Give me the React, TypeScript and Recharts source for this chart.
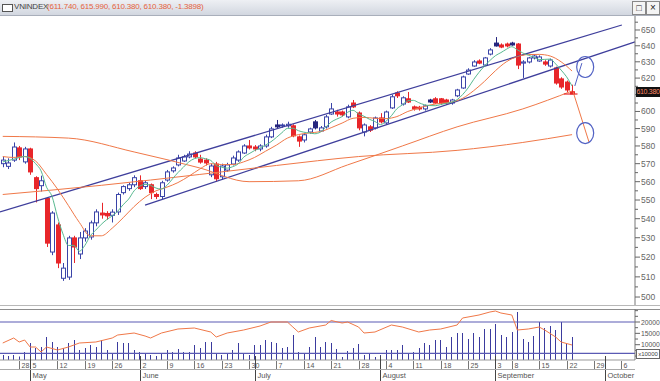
import React from 'react';
import { ComposedChart, Bar, Line, XAxis, YAxis, ReferenceLine, ReferenceDot } from 'recharts';

// trading days 23 Apr .. 8 Oct 2014, index 0..115 (data ends at 104)
const SLOTS = 116;

const opens = [
  570, 568.5, 572, 578.9, 571, 578.3, 562.2, 557.8, 550.8, 522.6,
  536.7, 509.3, 509.9, 529.9, 521.6, 529.9, 530.4, 537.8, 543, 542.8,
  541.8, 543.6, 554, 556.2, 558.3, 560.5, 557.3, 558.3, 553, 551.9,
  560.9, 566, 569.3, 571.5, 573.8, 576, 572.6, 572, 563.8, 569.8,
  562.7, 566.4, 569.8, 572, 576, 580, 579.4, 578.3, 580, 585.2,
  592.1, 591.6, 591.6, 591.6, 585.2, 583.4, 588, 593.9, 588.6, 591,
  598.5, 599.7, 599.7, 596.8, 605, 599.1, 588, 591, 590.4, 596.2,
  593.3, 602.1, 611, 604.4, 607.5, 602.7, 602.5, 601.5, 606.8, 607.5,
  607.5, 606.8, 605, 609.3, 614, 622.5, 627.4, 630.5, 628, 634.8,
  641.7, 640.5, 641.1, 641.7, 641.1, 629.2, 629.9, 632.4, 630.5, 629.9,
  627.4, 626.2, 619.5, 617.6, 611.74,
];
const highs = [
  574, 573, 582, 580, 579.5, 579, 563, 563.3, 551.5, 544,
  538, 517, 531, 531, 533, 535, 539, 545, 548.5, 544,
  545, 554, 558, 559.5, 563.5, 563.5, 560.5, 559, 554, 560.5,
  566.5, 568.5, 575, 575, 577, 577, 575, 573, 570, 571,
  570, 570.5, 574.5, 577.5, 581, 583.4, 580.5, 581, 586.5, 591,
  595, 593, 594, 592.5, 586, 587.5, 590.5, 595, 591.5, 598,
  605, 601, 600.5, 604, 606.8, 600, 593, 592, 597, 599,
  600.5, 610, 612, 609, 611.6, 603.5, 603.3, 604, 607.5, 608.5,
  608, 607.5, 607.5, 613.5, 621.5, 626, 631, 631.5, 633, 638.5,
  645.5, 641.5, 642, 642.5, 641.7, 631, 633, 634.5, 634, 631,
  632, 627, 620.5, 618.5, 615.99,
];
const lows = [
  568, 567, 571, 572, 570, 563.8, 548.7, 554.6, 525.2, 521,
  514.4, 508, 508.5, 517, 519, 528, 529, 536, 540, 539.5,
  538, 542, 553, 555, 557, 555.5, 556, 550.5, 550.5, 550.5,
  560, 565, 568.5, 571, 573, 573, 570, 569, 562.5, 560,
  561, 565.5, 569, 571, 575.5, 578, 577, 577, 579, 584.5,
  590, 590.5, 590.5, 585, 579.5, 582, 587, 589.5, 588, 590,
  598, 597, 597, 596, 602, 589, 585.5, 588, 589.5, 593,
  592.5, 601.5, 608, 603.5, 605, 600.5, 600.5, 600.5, 605, 604.5,
  604, 604, 604, 608.5, 613.5, 622, 627, 628.5, 627.5, 634,
  639.5, 638.5, 639, 640, 625.5, 620.1, 629, 631.5, 630, 627.5,
  626.5, 616, 613.5, 611.5, 610.38,
];
const closes = [
  572, 570.4, 579.4, 573.8, 578.3, 565.4, 556.2, 560.5, 527.2, 543,
  517, 514.4, 529.9, 525.2, 529.9, 533.5, 537.8, 543.6, 542, 541.5,
  543.5, 553, 557.3, 558.3, 562.2, 556.2, 559.4, 554, 551.9, 559.4,
  565.4, 567.6, 573.2, 573.8, 575.4, 573.8, 570.9, 570.4, 568.7, 561.6,
  568.7, 569.3, 573.2, 576.6, 580, 578.9, 578.3, 580, 585.2, 589.8,
  591, 592.1, 592.5, 585.8, 582.8, 586.4, 589.8, 590.4, 590.4, 596.8,
  601.5, 598.5, 598, 602.7, 602.7, 590.4, 592.1, 589.1, 596.2, 593.9,
  599.7, 608.7, 609.3, 608.1, 605.6, 601.5, 601.5, 603.3, 605.6, 605,
  605, 605, 606.8, 612.8, 620.7, 624.9, 629.9, 629.2, 632.4, 637.4,
  639.9, 639.2, 639.9, 640.5, 628, 629.9, 632.4, 633.6, 633, 628.6,
  631.1, 617, 614.6, 612.8, 610.38,
];
// small candles drawn filled in dark blue
const darkCandles = [50, 57, 78, 90, 93];

const volumes = [
  5463, 5022, 5463, 4800, 6784, 10749, 8546, 8987, 13392, 11190,
  8987, 8546, 10749, 12071, 7665, 8546, 9868, 8987, 12071, 7665,
  6344, 11190, 10749, 10749, 7665, 6784, 6344, 5463, 5022, 6344,
  7665, 6784, 8106, 6784, 6784, 9868, 8546, 11190, 11190, 6344,
  5463, 6344, 7665, 10749, 5903, 5463, 9868, 9868, 12071, 11190,
  10749, 8546, 8987, 14273, 6784, 6344, 8987, 13392, 8987, 11190,
  10749, 8106, 4581, 7225, 8546, 10308, 5463, 6344, 4581, 5463,
  7665, 7665, 7665, 9868, 6344, 6784, 8546, 10749, 9868, 12071,
  12071, 8987, 13392, 15154, 15154, 12511, 15154, 13392, 16916, 16916,
  19119, 14273, 13392, 15595, 24405, 12511, 11190, 13833, 20000, 17357,
  18238, 16476, 20000, 10749, 13392,
];

// [day index, value]
const ma5 = [
  [0, 571], [2, 572.5], [4, 574], [5, 573], [6, 570], [7, 566], [8, 557], [9, 552], [10, 541], [11, 532],
  [12, 526], [13, 526], [14, 523], [15, 526], [16, 531], [17, 534], [18, 537], [19, 539.5], [20, 541.5],
  [21, 544], [22, 547.5], [23, 550.5], [24, 555], [25, 557.5], [26, 558.5], [27, 558], [28, 556.5], [29, 556],
  [30, 558], [31, 561.5], [32, 565], [33, 568], [34, 571], [35, 572.8], [36, 573.4], [37, 572.8], [38, 571.8],
  [39, 569], [40, 568], [41, 567.5], [42, 568.3], [43, 569.9], [44, 573.6], [45, 575.6], [46, 577.4],
  [47, 578.8], [48, 580.5], [49, 582.4], [50, 584.9], [51, 587.6], [52, 590.1], [53, 590.2], [54, 588.8],
  [55, 587.9], [56, 587.5], [57, 587], [58, 587.9], [59, 590.8], [60, 593.8], [61, 595.5], [62, 597],
  [63, 599.5], [64, 600.7], [65, 598.5], [66, 597.2], [67, 595.4], [68, 594.1], [69, 592.3], [70, 594.2],
  [71, 597.5], [72, 601.6], [73, 603.9], [74, 606.3], [75, 606.6], [76, 605.2], [77, 604], [78, 603.5],
  [79, 603.4], [80, 604.1], [81, 604.8], [82, 605.5], [83, 607], [84, 610], [85, 614], [86, 619], [87, 623.5],
  [88, 627.4], [89, 630.8], [90, 633.8], [91, 635.7], [92, 637.8], [93, 639.4], [94, 637.5], [95, 635.5],
  [96, 634.1], [97, 632.9], [98, 631.4], [99, 631.5], [100, 631.7], [101, 628.7], [102, 624.9], [103, 620.8],
  [104, 615.2],
];
const ma10 = [
  [0, 574], [2, 573.5], [4, 574], [6, 571.5], [8, 564], [10, 556], [12, 547], [14, 538], [16, 531], [18, 531],
  [20, 535], [22, 540.5], [24, 546.5], [26, 551.5], [28, 555], [30, 557], [32, 559.5], [34, 563], [36, 567],
  [38, 570], [40, 569.5], [42, 569.5], [44, 571], [46, 573.5], [48, 577], [50, 580.5], [52, 584.5],
  [54, 586.5], [56, 587.5], [58, 588.2], [60, 590.5], [62, 593.2], [64, 596], [66, 596.5], [68, 596],
  [70, 595.8], [72, 597], [74, 600], [76, 602], [78, 603.8], [80, 604.8], [82, 605.6], [84, 607.8],
  [86, 612.3], [88, 618], [90, 624.5], [92, 630], [94, 633.2], [96, 634.5], [98, 634.6], [100, 633.6],
  [102, 630], [104, 624.3],
];
const ma50 = [
  [0, 585.5], [12, 584.5], [24, 576.6], [36, 567.6], [45, 560], [54, 560.5], [63, 569.3], [73, 580],
  [83, 591], [95, 601.5], [104, 612.2],
];
const ma100 = [
  [0, 553], [18, 558], [36, 564], [50, 569], [65, 574], [83, 577.5], [95, 582], [104, 586.5],
];
const obv = [
  [0, 10749], [2, 12952], [3, 11190], [4, 12071], [5, 8987], [6, 8987], [7, 6784], [8, 8987], [10, 7665],
  [12, 8987], [14, 10749], [17, 11190], [20, 12952], [21, 14273], [24, 15154], [26, 13833], [27, 12952],
  [29, 15154], [32, 16916], [35, 17357], [38, 15595], [39, 13392], [41, 15154], [44, 16476], [47, 18238],
  [49, 20000], [52, 20000], [53, 17797], [54, 15595], [56, 17357], [59, 18678], [60, 20660], [62, 19560],
  [63, 20000], [65, 17797], [66, 15154], [68, 15595], [71, 18678], [73, 17797], [76, 15595], [78, 16476],
  [80, 16916], [83, 18678], [84, 21762], [87, 23084], [89, 24405], [90, 24846], [91, 23965], [93, 23084],
  [94, 16476], [96, 16916], [98, 17797], [99, 16476], [101, 13392], [102, 11190], [104, 9868],
];

const priceTicks = [
  500, 505, 510, 515, 520, 525, 530, 535, 540, 545, 550, 555, 560, 565, 570, 575,
  580, 585, 590, 595, 600, 605, 610, 615, 620, 625, 630, 635, 640, 645, 650, 655,
];
const volTicks = [5000, 7500, 10000, 12500, 15000, 17500, 20000, 22500, 25000];
const volLabels = [10000, 15000, 20000];

const weekTicks = [3, 5, 10, 15, 20, 25, 30, 35, 40, 45, 50, 55, 60, 65, 70, 75, 80, 85, 90, 93, 98, 103, 108, 113];
const weekLabels = ['28', '5', '12', '19', '26', '2', '9', '16', '23', '30', '7', '14', '21', '28', '4', '11', '18', '25', '3', '8', '15', '22', '29', '6'];
const monthTicks = [5, 25, 46, 69, 90, 110];
const monthLabels = ['May', 'June', 'July', 'August', 'September', 'October'];

const LAST = { o: 611.74, h: 615.99, l: 610.38, c: 610.38, chg: -1.3898 };

const W = 660;
const PLOT_W = 635;
const FONT = '"Liberation Sans", Arial, sans-serif';
const BLUE = '#3a44a8';
const RED = '#e8262a';
const ORANGE = '#f07848';

const asMap = (pts: number[][]) => new Map(pts.map(([i, v]) => [i, v]));
const m5 = asMap(ma5), m10 = asMap(ma10), m50 = asMap(ma50), m100 = asMap(ma100), mObv = asMap(obv);

const rows = Array.from({ length: SLOTS }, (_, i) => {
  const has = i < opens.length;
  return {
    i,
    range: has ? [lows[i], highs[i]] : null,
    o: opens[i], h: highs[i], l: lows[i], c: closes[i],
    dark: darkCandles.includes(i),
    vol: has ? volumes[i] : null,
    ma5: m5.get(i) ?? null,
    ma10: m10.get(i) ?? null,
    ma50: m50.get(i) ?? null,
    ma100: m100.get(i) ?? null,
    obv: mObv.get(i) ?? null,
  };
});

function Candle(props: any) {
  const { x, y, width, height, payload } = props;
  if (!payload || payload.o == null) return null;
  const { o, h, l, c, dark } = payload;
  const top = Math.min(y, y + height);
  const bot = Math.max(y, y + height);
  const span = Math.log(h) - Math.log(l);
  const py = (v: number) => (span > 0 ? top + ((Math.log(h) - Math.log(v)) / span) * (bot - top) : top);
  const cx = Math.round(x + width / 2) + 0.5;
  const up = c >= o;
  const bTop = Math.min(py(o), py(c));
  const bH = Math.max(1, Math.abs(py(o) - py(c)));
  const col = dark ? '#25257e' : up ? BLUE : RED;
  return (
    <g>
      <line x1={cx} x2={cx} y1={top} y2={bot} stroke={up && !dark ? BLUE : col} strokeWidth={1} />
      <rect
        x={cx - 2}
        y={bTop}
        width={4}
        height={bH}
        fill={dark ? '#25257e' : up ? '#ffffff' : RED}
        stroke={col}
        strokeWidth={1}
      />
    </g>
  );
}

function VolBar(props: any) {
  const { x, y, width, height } = props;
  if (height == null || isNaN(height)) return null;
  const cx = Math.round(x + width / 2) + 0.5;
  return <line x1={cx} x2={cx} y1={y} y2={y + height} stroke="#3b3b9e" strokeWidth={1} />;
}

function PriceTick(props: any) {
  const { y, payload } = props;
  const major = payload.value % 10 === 0;
  // the last-price box covers the 610 label
  const showText = major && payload.value !== 610;
  return (
    <g>
      <line x1={PLOT_W} x2={PLOT_W + (major ? 5 : 3)} y1={y} y2={y} stroke="#666" />
      {showText && (
        <text x={PLOT_W + 6} y={y + 3} fontSize={8.5} fill="#666" fontFamily={FONT}>
          {payload.value}
        </text>
      )}
    </g>
  );
}

function VolTick(props: any) {
  const { y, payload } = props;
  const lab = volLabels.includes(payload.value);
  return (
    <g>
      <line x1={PLOT_W} x2={PLOT_W + (lab ? 5 : 3)} y1={y} y2={y} stroke="#666" />
      {lab && (
        <text x={PLOT_W + 6} y={y + 2.5} fontSize={6.8} fill="#555" fontFamily={FONT}>
          {payload.value}
        </text>
      )}
    </g>
  );
}

const AX = 51; // top of date axis inside the volume chart
function DateTick(props: any) {
  const { x, payload } = props;
  const wk = weekTicks.indexOf(payload.value);
  const mo = monthTicks.indexOf(payload.value);
  const px = Math.round(x) + 0.5;
  return (
    <g fontFamily={FONT}>
      {wk >= 0 && <line x1={px} x2={px} y1={AX + 1} y2={AX + 9} stroke="#777" />}
      {wk >= 0 && (
        <text x={px + 2} y={AX + 7.5} fontSize={7} fill="#555">
          {weekLabels[wk]}
        </text>
      )}
      {mo >= 0 && <line x1={px} x2={px} y1={AX - 4} y2={AX + 21} stroke="#444" />}
      {mo >= 0 && (
        <text x={px + 2} y={AX + 18} fontSize={7.5} fill="#555">
          {monthLabels[mo]}
        </text>
      )}
    </g>
  );
}

const ellipse = (p: any) => (
  <ellipse cx={p.cx} cy={p.cy} rx={8.5} ry={10.5} fill="none" stroke="#5262c4" strokeWidth={1.2} />
);

export default function App() {
  const allTicks = Array.from(new Set([...weekTicks, ...monthTicks])).sort((a, b) => a - b);
  return (
    <div style={{ position: 'relative', width: W, height: 381, background: '#fff', fontFamily: FONT, overflow: 'hidden' }}>
      <style>{'body{margin:0}'}</style>

      {/* title bar */}
      <div
        style={{
          position: 'absolute', left: 0, top: 0, width: W, height: 15,
          background: 'linear-gradient(#eef0f4, #d2d7e0)', borderBottom: '1px solid #a9afbb',
        }}
      >
        <div style={{ position: 'absolute', left: 2, top: 4, width: 9, height: 6, border: '1px solid #555', background: '#fff' }} />
        <span style={{ position: 'absolute', left: 14, top: 2, fontSize: 8, color: '#444', letterSpacing: -0.2 }}>VNINDEX</span>
        <span style={{ position: 'absolute', left: 47, top: 2, fontSize: 8, color: '#e5623c', letterSpacing: -0.2 }}>
          ({LAST.o.toFixed(3)}, {LAST.h.toFixed(3)}, {LAST.l.toFixed(3)}, {LAST.c.toFixed(3)}, {LAST.chg})
        </span>
        <div style={{ position: 'absolute', left: 632, top: 1, width: 12, height: 12, border: '1px solid #888', background: '#f4f4f4', fontSize: 9, lineHeight: '12px', textAlign: 'center', color: '#222' }}>□</div>
        <div style={{ position: 'absolute', left: 646, top: 1, width: 12, height: 12, border: '1px solid #888', background: '#f4f4f4', fontSize: 10, lineHeight: '12px', textAlign: 'center', color: '#222' }}>×</div>
      </div>

      {/* price panel */}
      <div style={{ position: 'absolute', left: 0, top: 16 }}>
        <ComposedChart width={W} height={289} data={rows} margin={{ top: 0, right: 0, bottom: 0, left: 0 }}>
          <XAxis dataKey="i" type="number" domain={[-0.5, SLOTS - 0.5]} hide allowDataOverflow />
          <YAxis
            orientation="right"
            width={25}
            type="number"
            scale="log"
            domain={[496.1, 659]}
            allowDataOverflow
            ticks={priceTicks}
            interval={0}
            tick={<PriceTick />}
            tickLine={false}
            axisLine={{ stroke: '#777' }}
          />
          <ReferenceLine segment={[{ x: -0.5, y: 543.6 }, { x: 113.1, y: 653.2 }]} stroke="#3f3f9c" strokeWidth={1.3} ifOverflow="visible" />
          <ReferenceLine segment={[{ x: 26, y: 547.3 }, { x: 115.5, y: 642.4 }]} stroke="#3f3f9c" strokeWidth={1.3} ifOverflow="visible" />
          <Bar dataKey="range" barSize={4} shape={<Candle />} isAnimationActive={false} />
          <Line dataKey="ma100" type="monotone" stroke={ORANGE} strokeWidth={1} dot={false} connectNulls isAnimationActive={false} />
          <Line dataKey="ma50" type="monotone" stroke={ORANGE} strokeWidth={1} dot={false} connectNulls isAnimationActive={false} />
          <Line dataKey="ma10" type="monotone" stroke={ORANGE} strokeWidth={1} dot={false} connectNulls isAnimationActive={false} />
          <Line dataKey="ma5" type="monotone" stroke="#58b990" strokeWidth={1} dot={false} connectNulls isAnimationActive={false} />
          <ReferenceLine segment={[{ x: 102.5, y: LAST.c }, { x: 105, y: LAST.c }]} stroke={RED} strokeWidth={1.2} />
          <ReferenceLine segment={[{ x: 104.5, y: 615.2 }, { x: 105.8, y: 629.2 }]} stroke="#5262c4" strokeWidth={1} ifOverflow="visible" />
          <ReferenceLine segment={[{ x: 104.2, y: 611.6 }, { x: 107.1, y: 582.2 }]} stroke={ORANGE} strokeWidth={1} ifOverflow="visible" />
          <ReferenceDot x={106.4} y={626.8} r={9} shape={ellipse} ifOverflow="visible" />
          <ReferenceDot x={106.4} y={587.4} r={9} shape={ellipse} ifOverflow="visible" />
        </ComposedChart>
      </div>

      {/* last price box */}
      <div
        style={{
          position: 'absolute', left: 636, top: 87, width: 24, height: 10, background: '#111',
          color: '#ff8a66', fontSize: 7, lineHeight: '10px', textAlign: 'center', letterSpacing: -0.3,
        }}
      >
        {LAST.c.toFixed(3)}
      </div>

      {/* panel separator */}
      <div style={{ position: 'absolute', left: 0, top: 305, width: W, height: 3, borderTop: '1px solid #b8b8b8', borderBottom: '1px solid #8e8e8e' }} />

      {/* volume panel + date axis */}
      <div style={{ position: 'absolute', left: 0, top: 309 }}>
        <ComposedChart width={W} height={72} data={rows} margin={{ top: 0, right: 0, bottom: 0, left: 0 }}>
          <XAxis
            dataKey="i"
            type="number"
            domain={[-0.5, SLOTS - 0.5]}
            allowDataOverflow
            ticks={allTicks}
            interval={0}
            height={21}
            tick={<DateTick />}
            tickLine={false}
            axisLine={{ stroke: '#999' }}
          />
          <YAxis
            orientation="right"
            width={25}
            type="number"
            domain={[3261, 25727]}
            allowDataOverflow
            ticks={volTicks}
            interval={0}
            tick={<VolTick />}
            tickLine={false}
            axisLine={{ stroke: '#777' }}
          />
          <ReferenceLine y={20000} stroke="#5a5ab4" strokeWidth={1.2} />
          <ReferenceLine y={6200} stroke="#5a5ab4" strokeWidth={1.2} />
          <Bar dataKey="vol" barSize={1} shape={<VolBar />} isAnimationActive={false} />
          <Line dataKey="obv" type="linear" stroke={ORANGE} strokeWidth={1} dot={false} connectNulls isAnimationActive={false} />
        </ComposedChart>
      </div>

      {/* rule between date row and month row */}
      <div style={{ position: 'absolute', left: 0, top: 369, width: PLOT_W, height: 0, borderTop: '1px solid #aaa' }} />

      {/* volume unit box */}
      <div
        style={{
          position: 'absolute', left: 636, top: 349, width: 22, height: 8, border: '1px solid #666',
          fontSize: 6, lineHeight: '8px', textAlign: 'center', color: '#444', background: '#fff',
        }}
      >
        x10000
      </div>
    </div>
  );
}
